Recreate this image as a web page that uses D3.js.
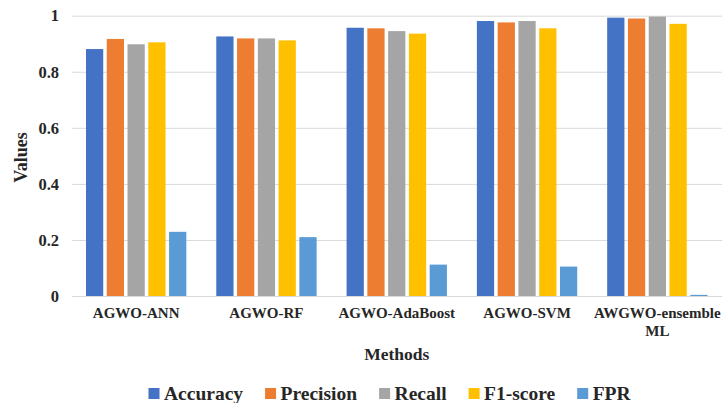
<!DOCTYPE html>
<html>
<head>
<meta charset="utf-8">
<script src="https://cdn.jsdelivr.net/npm/d3@7"></script>
<style>
  html, body { margin: 0; padding: 0; background: #fff; }
</style>
</head>
<body>
<svg id="fig" width="722" height="403"></svg>
<script>
const categories = ["AGWO-ANN", "AGWO-RF", "AGWO-AdaBoost", "AGWO-SVM", "AWGWO-ensemble ML"];
const seriesNames = ["Accuracy", "Precision", "Recall", "F1-score", "FPR"];
const accuracy  = [0.881, 0.926, 0.957, 0.981, 0.993];
const precision = [0.917, 0.919, 0.955, 0.976, 0.990];
const recall    = [0.898, 0.919, 0.945, 0.981, 0.997];
const f1score   = [0.905, 0.912, 0.936, 0.955, 0.971];
const fpr       = [0.229, 0.210, 0.112, 0.105, 0.004];
const yTicks = [0, 0.2, 0.4, 0.6, 0.8, 1];
const yTickLabels = ["0", "0.2", "0.4", "0.6", "0.8", "1"];
const colors = ["#4472C4", "#ED7D31", "#A5A5A5", "#FFC000", "#5B9BD5"];

const FONT = "'Liberation Serif', 'Times New Roman', Tinos, serif";
const seriesValues = [accuracy, precision, recall, f1score, fpr];
const data = categories.map((c, i) => ({
  cat: c,
  vals: seriesNames.map((s, j) => ({ series: s, value: seriesValues[j][i], color: colors[j] }))
}));

function styleText(sel, size) {
  return sel.style("font-family", FONT).style("font-weight", "bold")
    .style("font-size", size + "px").style("fill", "#262626");
}

const svg = d3.select("#fig");
const plot = { left: 71, right: 722.5, top: 15.7, bottom: 296 };

const x0 = d3.scaleBand().domain(categories).range([plot.left, plot.right])
  .paddingInner(0.23).paddingOuter(0.115);
const x1 = d3.scaleBand().domain(seriesNames).range([0, x0.bandwidth()]).paddingInner(0.17);
const y = d3.scaleLinear().domain([0, 1]).range([plot.bottom, plot.top]);

// Gridlines + y axis
const yAxis = d3.axisLeft(y).tickValues(yTicks)
  .tickFormat((d, i) => yTickLabels[i])
  .tickSize(-(plot.right - plot.left - 1)).tickPadding(13);
const gy = svg.append("g").attr("transform", `translate(${plot.left + 1},0)`).call(yAxis)
  .attr("font-family", null);
gy.select(".domain").remove();
gy.selectAll(".tick line").attr("stroke", "#D9D9D9").attr("stroke-width", 1);
styleText(gy.selectAll(".tick text"), 16.5).attr("dy", "0.32em");

// Bars
const groups = svg.append("g").selectAll("g").data(data).join("g")
  .attr("transform", d => `translate(${x0(d.cat)},0)`);
groups.selectAll("rect").data(d => d.vals).join("rect")
  .attr("x", d => x1(d.series))
  .attr("y", d => y(d.value))
  .attr("width", x1.bandwidth())
  .attr("height", d => y(0) - y(d.value))
  .attr("fill", d => d.color);

// X axis labels
const xAxis = d3.axisBottom(x0).tickSize(0).tickPadding(0);
const gx = svg.append("g").attr("transform", `translate(0,${plot.bottom})`).call(xAxis)
  .attr("font-family", null);
gx.select(".domain").remove();
styleText(gx.selectAll(".tick text"), 15)
  .attr("y", 22.3).attr("dy", 0)
  .each(function(d) {
    const t = d3.select(this);
    const words = d.split(" ");
    t.text(null);
    let line = [];
    let lineNo = 0;
    let tspan = t.append("tspan").attr("x", 0).attr("y", 22.3);
    words.forEach(w => {
      line.push(w);
      tspan.text(line.join(" "));
      if (tspan.node().getComputedTextLength() > x0.step() - 4 && line.length > 1) {
        line.pop();
        tspan.text(line.join(" "));
        line = [w];
        lineNo++;
        tspan = t.append("tspan").attr("x", 0).attr("y", 22.3 + lineNo * 17.7).text(w);
      }
    });
  });

// Axis titles
styleText(svg.append("text"), 18)
  .attr("transform", `translate(26.5,${157.5}) rotate(-90)`)
  .attr("text-anchor", "middle")
  .text("Values");
styleText(svg.append("text"), 17.5)
  .attr("x", (plot.left + plot.right) / 2).attr("y", 360)
  .attr("text-anchor", "middle")
  .text("Methods");

// Legend
const legend = svg.append("g");
let lx = 148.5;
seriesNames.forEach((s, i) => {
  legend.append("rect").attr("x", lx).attr("y", 388).attr("width", 11).attr("height", 11).attr("fill", colors[i]);
  const t = styleText(legend.append("text"), 19.5).attr("x", lx + 15.5).attr("y", 399.5).text(s);
  lx += 15.5 + t.node().getComputedTextLength() + 22;
});
</script>
</body>
</html>
